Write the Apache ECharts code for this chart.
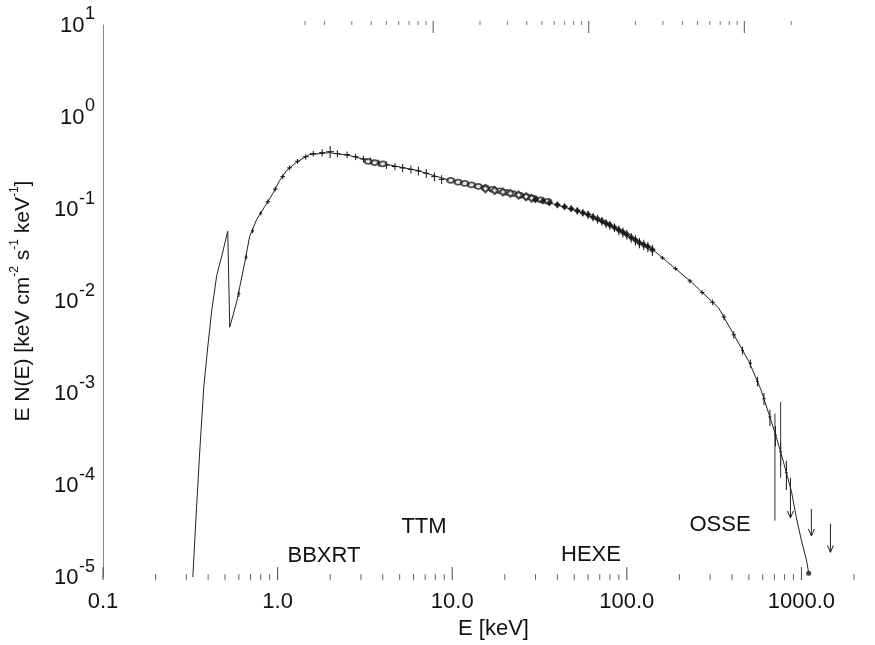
<!DOCTYPE html>
<html><head><meta charset="utf-8">
<script src="https://cdn.jsdelivr.net/npm/echarts/dist/echarts.min.js"></script>
<style>html,body{margin:0;padding:0;background:#fff}#c{width:875px;height:645px}</style>
</head><body><div id="c"></div>
<script>
// ---- data ----
const modelE = [0.327,0.340,0.358,0.378,0.398,0.420,0.448,0.479,0.518,0.530,0.532,0.583,0.648,0.692,0.759,0.843,0.936,1.03,1.13,1.28,1.52,1.98,2.58,3.68,6.22,9.6,14.8,22.0,34.4,53.2,82,139,235,336,498,583,648,719,789,877,936,1000,1069,1097];
const modelF = [1.0e-5,4.1e-5,2.3e-4,1.18e-3,3.16e-3,8.0e-3,0.019,0.031,0.0574,0.057,0.0052,0.0098,0.0261,0.0507,0.077,0.106,0.146,0.206,0.264,0.321,0.39,0.41,0.381,0.321,0.264,0.206,0.173,0.142,0.12,0.094,0.065,0.037,0.016,0.0084,0.00224,0.00112,0.00061,0.00033,0.000178,0.000085,0.000044,0.000025,0.0000153,0.0000114];

// BBXRT points: [E, flux, relative E half-width, relative flux error]
const bbxrtPts = [[0.60,0.012,0.02,0.08],[0.66,0.030,0.02,0.06],[0.72,0.058,0.02,0.06],[0.80,0.090,0.02,0.05],[0.88,0.12,0.03,0.06],[0.97,0.165,0.03,0.06],[1.07,0.225,0.03,0.06],[1.17,0.28,0.03,0.06],[1.30,0.33,0.03,0.06],[1.45,0.37,0.04,0.07],[1.60,0.40,0.04,0.07],[1.80,0.41,0.04,0.09],[2.0,0.42,0.05,0.15],[2.2,0.40,0.04,0.09],[2.5,0.39,0.04,0.08],[2.8,0.37,0.04,0.08],[3.1,0.35,0.04,0.08],[3.4,0.335,0.04,0.08],[3.8,0.315,0.04,0.09],[4.2,0.30,0.04,0.09],[4.7,0.29,0.04,0.09],[5.2,0.28,0.04,0.1],[5.8,0.27,0.04,0.1],[6.4,0.26,0.04,0.11],[7.1,0.245,0.04,0.11],[7.9,0.225,0.04,0.11],[8.7,0.21,0.04,0.11]];
// TTM points: [E, flux]
const ttmPts = [[3.3,0.33],[3.6,0.32],[4.0,0.31],[9.8,0.205],[10.8,0.196],[11.8,0.19],[12.9,0.183],[14.1,0.176],[15.5,0.170],[17,0.164],[18.6,0.158],[20.4,0.152],[22.3,0.147],[24.5,0.141],[26.8,0.136],[29.4,0.131],[32.2,0.126],[35.3,0.121]];
// HEXE points
const hexeLowPts = [[15.5,0.166],[17.5,0.159],[19.5,0.153],[21.5,0.148],[24,0.142],[26.5,0.136],[28.5,0.131]];
const hexePts = [[30,0.126,0.03,0.07],[33,0.122,0.03,0.07],[36,0.117,0.03,0.07],[40,0.111,0.03,0.08],[44,0.106,0.03,0.08],[48,0.101,0.03,0.08],[52,0.096,0.03,0.09],[56,0.091,0.03,0.09],[60,0.087,0.03,0.1],[64,0.082,0.03,0.1],[68,0.078,0.03,0.11],[72,0.074,0.03,0.11],[76,0.070,0.03,0.11],[80,0.067,0.03,0.11],[85,0.063,0.03,0.11],[90,0.059,0.03,0.12],[95,0.056,0.03,0.12],[100,0.053,0.03,0.12],[106,0.049,0.03,0.12],[112,0.046,0.03,0.13],[118,0.043,0.03,0.13],[125,0.041,0.03,0.13],[132,0.039,0.03,0.13],[140,0.036,0.03,0.14]];
// OSSE points
const ossePts = [[160,0.0295,0.03,0.05],[190,0.0225,0.03,0.05],[230,0.0165,0.03,0.06],[270,0.0124,0.03,0.06],[310,0.0097,0.03,0.07],[360,0.0067,0.03,0.08],[410,0.0043,0.03,0.09],[460,0.0029,0.02,0.1],[510,0.0021,0.02,0.1],[560,0.00134,0.02,0.12],[610,0.00087,0.02,0.15],[660,0.00055,0.02,0.2],[710,0.00035,0.02,0.25],[760,0.00023,0.02,0.3],[820,0.000136,0.02,0.35]];
// long OSSE error bars: [E, low, high]
const osseBars = [[705,4.1e-5,6e-4],[760,1.2e-4,8e-4]];
// upper limits: [E, top, arrow tip]
const upperLimits = [[865,1.2e-4,4.4e-5],[1140,5.5e-5,2.8e-5],[1466,3.8e-5,1.86e-5]];
const endPoint = [[1100,1.1e-5]];

// axis ticks and labels
const yTickValues = [1e-5,1e-4,1e-3,1e-2,1e-1,1,10];
const xMajorTicks = [0.1,1,10,100,1000];
const xMinorTicks = [0.2,0.3,0.4,0.5,0.6,0.7,0.8,0.9,2,3,4,5,6,7,8,9,20,30,40,50,60,70,80,90,200,300,400,500,600,700,800,900,2000];
const topMajorTicks = [1,10,100];
const topMinorTicks = [0.15,0.2,0.3,0.4,0.5,0.6,0.7,0.8,0.9,2,3,4,5,6,7,8,9,20,30,40,50,60,70,80,90,200];

const instLabels = [
  {text:'BBXRT', x:324, y:556},
  {text:'TTM', x:424, y:527},
  {text:'HEXE', x:591, y:555},
  {text:'OSSE', x:720, y:525}
];

// ---- chart ----
const FONT = '"Liberation Sans", Arial, Helvetica, sans-serif';
const Y_MIN = 1e-5, Y_MAX = 10, X_MIN = 0.1;
const measCtx = document.createElement('canvas').getContext('2d');
const chart = echarts.init(document.getElementById('c'));

function crossRender(params, api) {
  const E = api.value(0), F = api.value(1), ex = api.value(2), ey = api.value(3);
  const l = api.coord([E*(1-ex), F]), r = api.coord([E*(1+ex), F]);
  const t = api.coord([E, F*(1+ey)]), b = api.coord([E, F*(1-ey)]);
  const st = {stroke:'#111', lineWidth:1};
  return {type:'group', children:[
    {type:'line', shape:{x1:l[0],y1:l[1],x2:r[0],y2:r[1]}, style:st},
    {type:'line', shape:{x1:t[0],y1:t[1],x2:b[0],y2:b[1]}, style:st}
  ]};
}

const series = [
  {type:'line', data: modelE.map((e,i)=>[e, modelF[i]]), showSymbol:false, symbol:'none',
   lineStyle:{color:'#222', width:1}, z:2, silent:true},
  {type:'custom', data: bbxrtPts, renderItem: crossRender, z:3, silent:true},
  {type:'scatter', data: ttmPts, symbol:'emptyCircle', symbolSize:[7,5],
   itemStyle:{color:'#222', borderWidth:1}, z:4, silent:true},
  {type:'scatter', data: hexeLowPts, symbol:'emptyDiamond', symbolSize:7,
   itemStyle:{color:'#222', borderWidth:1}, z:4, silent:true},
  {type:'custom', data: hexePts, renderItem: crossRender, z:3, silent:true},
  {type:'scatter', data: hexePts.map(p=>[p[0],p[1]]), symbol:'diamond', symbolSize:7,
   itemStyle:{color:'#111'}, z:4, silent:true},
  {type:'custom', data: ossePts, renderItem: crossRender, z:3, silent:true},
  {type:'custom', data: osseBars, silent:true, z:3,
   renderItem: function(params, api){
     const a = api.coord([api.value(0), api.value(1)]), b = api.coord([api.value(0), api.value(2)]);
     return {type:'line', shape:{x1:a[0],y1:a[1],x2:b[0],y2:b[1]}, style:{stroke:'#333', lineWidth:1}};
   }},
  {type:'custom', data: upperLimits, silent:true, z:3,
   renderItem: function(params, api){
     const a = api.coord([api.value(0), api.value(1)]), b = api.coord([api.value(0), api.value(2)]);
     return {type:'group', children:[
       {type:'line', shape:{x1:a[0],y1:a[1],x2:b[0],y2:b[1]}, style:{stroke:'#222', lineWidth:1}},
       {type:'polyline', shape:{points:[[b[0]-3,b[1]-7],[b[0],b[1]],[b[0]+3,b[1]-7]]}, style:{stroke:'#222', lineWidth:1, fill:null}}
     ]};
   }},
  {type:'scatter', data: endPoint, symbol:'circle', symbolSize:5, itemStyle:{color:'#111'}, silent:true, z:4},
  // y-axis labels (10 with superscript exponent)
  {type:'custom', data: yTickValues.map(v=>[X_MIN, v]), silent:true, clip:false, z:5,
   renderItem: function(params, api){
     const v = api.value(1);
     const p = api.coord([X_MIN, v]);
     const e = Math.round(Math.log10(v));
     const expStr = (e<0?'-':'') + Math.abs(e);
     measCtx.font = '18px ' + FONT;
     const w = measCtx.measureText(expStr).width;
     const xr = p[0] - 8;
     return {type:'group', children:[
       {type:'text', x: xr, y: p[1]-10.5, style:{text: expStr, font:'18px ' + FONT, fill:'#111', align:'right', verticalAlign:'middle'}},
       {type:'text', x: xr - w - 0.5, y: p[1]+1, style:{text:'10', font:'22px ' + FONT, fill:'#111', align:'right', verticalAlign:'middle'}}
     ]};
   }},
  // bottom axis ticks
  {type:'custom', data: xMajorTicks.map(v=>[v, Y_MIN]), silent:true, clip:false, z:1,
   renderItem: function(params, api){
     const p = api.coord([api.value(0), Y_MIN]);
     return {type:'line', shape:{x1:p[0],y1:p[1]+3,x2:p[0],y2:p[1]-10}, style:{stroke:'#444', lineWidth:1}};
   }},
  {type:'custom', data: xMinorTicks.map(v=>[v, Y_MIN]), silent:true, clip:false, z:1,
   renderItem: function(params, api){
     const p = api.coord([api.value(0), Y_MIN]);
     return {type:'line', shape:{x1:p[0],y1:p[1]+3,x2:p[0],y2:p[1]-3}, style:{stroke:'#666', lineWidth:1}};
   }},
  // top ticks
  {type:'custom', xAxisIndex:1, data: topMajorTicks.map(v=>[v, Y_MAX]), silent:true, clip:false, z:1,
   renderItem: function(params, api){
     const p = api.coord([api.value(0), Y_MAX]);
     return {type:'line', shape:{x1:p[0],y1:p[1]-4,x2:p[0],y2:p[1]+8}, style:{stroke:'#555', lineWidth:1}};
   }},
  {type:'custom', xAxisIndex:1, data: topMinorTicks.map(v=>[v, Y_MAX]), silent:true, clip:false, z:1,
   renderItem: function(params, api){
     const p = api.coord([api.value(0), Y_MAX]);
     return {type:'line', shape:{x1:p[0],y1:p[1]-4,x2:p[0],y2:p[1]}, style:{stroke:'#777', lineWidth:1}};
   }}
];

const option = {
  backgroundColor:'#fff',
  animation:false,
  grid:{left:103, right:21, top:25, bottom:58, containLabel:false},
  xAxis:[{
    type:'log', logBase:10, min:X_MIN, max:2000, position:'bottom',
    axisLine:{show:false}, axisTick:{show:false}, splitLine:{show:false}, minorTick:{show:false},
    axisLabel:{margin:14, fontSize:22, color:'#111', fontFamily:FONT, showMinLabel:true, showMaxLabel:true,
      formatter:function(v){ const l = Math.log10(v); return Math.abs(l-Math.round(l))<1e-6 ? v.toFixed(1) : ''; }},
    name:'E [keV]', nameLocation:'middle', nameGap:24,
    nameTextStyle:{fontSize:22, color:'#111', fontFamily:FONT, padding:[0,0,0,30]}
  },{
    type:'log', logBase:10, min:0.00755, max:507, position:'top', show:false
  }],
  yAxis:{
    type:'log', logBase:10, min:Y_MIN, max:Y_MAX,
    axisLine:{show:true, lineStyle:{color:'#888', width:1}},
    axisTick:{show:false}, splitLine:{show:false}, axisLabel:{show:false},
    name:'E N(E) [keV cm{s|-2} s{s|-1} keV{s|-1}]', nameLocation:'middle', nameGap:66,
    nameTextStyle:{fontSize:21, lineHeight:28, color:'#111', fontFamily:FONT,
      rich:{s:{fontSize:12, lineHeight:12, verticalAlign:'top', fontFamily:FONT, color:'#111'}}}
  },
  graphic: instLabels.map(l=>({type:'text', x:l.x, y:l.y, silent:true,
    style:{text:l.text, font:'22px ' + FONT, fill:'#111', align:'center', verticalAlign:'middle'}})),
  series: series
};
chart.setOption(option);
</script></body></html>
